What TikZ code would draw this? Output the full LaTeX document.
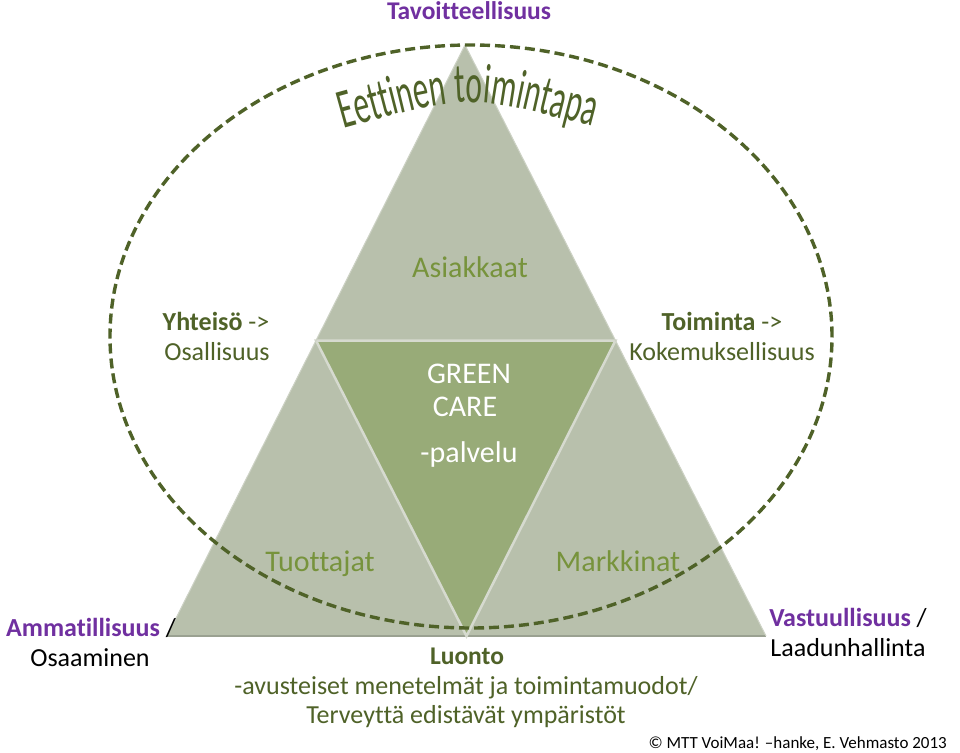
\documentclass[tikz,border=0pt]{standalone}
\usepackage{fontspec}
\setmainfont{Carlito}[Ligatures=NoCommon]
\newfontfamily\wordart{Carlito}[FakeStretch=0.56,Ligatures=NoCommon]
\usetikzlibrary{decorations.text}
\definecolor{purp}{HTML}{7030A0}
\definecolor{dkol}{HTML}{4F6228}
\definecolor{ltol}{HTML}{77933C}
\definecolor{trigrey}{HTML}{B8C0AC}
\definecolor{trigreen}{HTML}{98AB78}
\definecolor{bevelcol}{HTML}{D6DACF}
\definecolor{baseshadow}{HTML}{9AA191}
\begin{document}
\begin{tikzpicture}[x=1pt,y=-1pt,
  txt/.style={inner sep=0pt, anchor=base, font=\fontsize{26}{31}\selectfont},
  big/.style={inner sep=0pt, anchor=base, font=\fontsize{30}{36}\selectfont},
  bld/.style={inner sep=0pt, anchor=base, font=\fontsize{25.5}{31}\selectfont\bfseries}]
\useasboundingbox (0,0) rectangle (960,752);
\fill[white] (0,0) rectangle (960,752);
% triangle corners
\coordinate (A) at (465,45);
\coordinate (L) at (167,636);
\coordinate (R) at (766,636);
\coordinate (ML) at (316,340.5);
\coordinate (MR) at (615.5,340.5);
\coordinate (MB) at (466.5,636);
% triangles
\fill[trigrey] (A) -- (L) -- (R) -- cycle;
\fill[trigreen] (ML) -- (MR) -- (MB) -- cycle;
\draw[baseshadow, line width=2pt] (L) -- (R);
\draw[bevelcol, line width=2.5pt, line join=miter] (ML) -- (MR) -- (MB) -- cycle;
\draw[bevelcol!70!trigrey, line width=1pt] (A) -- (L);
\draw[bevelcol!70!trigrey, line width=1pt] (A) -- (R);
% ellipse
\draw[dkol, line width=3.4pt, dash pattern=on 10pt off 5pt] (471,336.5) ellipse [x radius=361pt, y radius=291.5pt];
% word art
\path[decorate, decoration={text along path, text align=center, text color=dkol,
  text={|\fontsize{56}{58}\wordart|Eettinen toimintapa}}]
  (342,129) .. controls (468,94) .. (594,127);
% labels
\node[bld, text=purp] (tav) at (469,20) {Tavoitteellisuus};
\node[txt, text=dkol] (yht) at (216,330) {\textbf{Yhteisö} ->};
\node[txt, text=dkol] (osa) at (217,360) {Osallisuus};
\node[txt, text=dkol] (toi) at (722,330) {\textbf{Toiminta} ->};
\node[txt, text=dkol] (kok) at (722,360) {Kokemuksellisuus};
\node[big, text=ltol] (asi) at (470,277) {Asiakkaat};
\node[big, text=white] (gre) at (469,383) {GREEN};
\node[big, text=white] (car) at (465,416) {CARE};
\node[big, text=white] (pal) at (469,462) {-palvelu};
\node[big, text=ltol] (tuo) at (320,571) {Tuottajat};
\node[big, text=ltol] (mar) at (618,571) {Markkinat};
\node[txt] (amm) at (91,636) {\textbf{\textcolor{purp}{Ammatillisuus}} /};
\node[txt] (osaa) at (90,666) {Osaaminen};
\node[txt] (vas) at (848,626) {\textbf{\textcolor{purp}{Vastuullisuus}} /};
\node[txt] (laa) at (848,656) {Laadunhallinta};
\node[bld, text=dkol] (luo) at (467,664) {Luonto};
\node[txt, text=dkol] (avu) at (466,694) {-avusteiset menetelmät ja toimintamuodot/};
\node[txt, text=dkol] (ter) at (466,723) {Terveyttä edistävät ympäristöt};
\node[inner sep=0pt, anchor=base east, font=\fontsize{17}{20}\selectfont] (cop) at (947,748) {© MTT VoiMaa! –hanke, E. Vehmasto 2013};
\end{tikzpicture}
\end{document}
